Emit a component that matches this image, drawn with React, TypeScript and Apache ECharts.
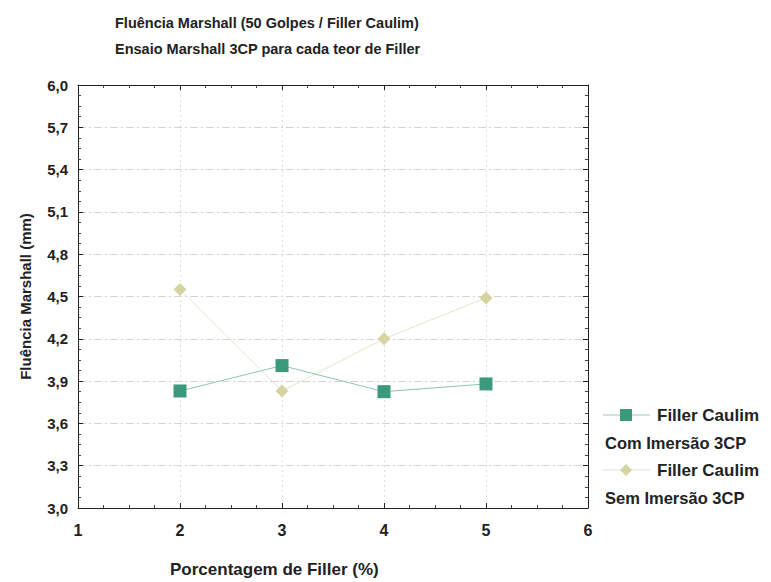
import React, { useEffect, useRef } from "react";
import * as echarts from "echarts";

const xValues = [2, 3, 4, 5];
const comImersao = [3.83, 4.01, 3.825, 3.88];
const semImersao = [4.55, 3.83, 4.2, 4.49];
const titleLine1 = "Fluência Marshall (50 Golpes / Filler Caulim)";
const titleLine2 = "Ensaio Marshall 3CP para cada teor de Filler";
const yName = "Fluência Marshall (mm)";
const xName = "Porcentagem de Filler (%)";
const legendNames = ["Filler Caulim", "Filler Caulim"];
const legendSub = ["Com Imersão 3CP", "Sem Imersão 3CP"];

const FONT = "'Liberation Sans Narrow', 'Liberation Sans', Arial, sans-serif";
const C1 = "#3b9a7c";
const C2 = "#d6d5a2";

export default function App() {
  const ref = useRef<HTMLDivElement>(null);
  useEffect(() => {
    document.body.style.margin = "0";
    const chart = echarts.init(ref.current!, null, { renderer: "svg" });
    const axisBase = {
      axisLine: { show: true, lineStyle: { color: "#222", width: 1 } },
      axisTick: { show: true, inside: true, length: 5, lineStyle: { color: "#222" } },
      minorTick: { show: true, splitNumber: 4, length: 3, lineStyle: { color: "#444" } },
    };
    const tstyle = { fontFamily: FONT, fontSize: 14.5, fontWeight: "bold", color: "#222" };
    chart.setOption({
      animation: false,
      backgroundColor: "#fff",
      textStyle: { fontFamily: FONT },
      title: [
        { text: titleLine1, left: 110, top: 10, textStyle: tstyle },
        { text: titleLine2, left: 110, top: 36, textStyle: tstyle },
        { text: xName, left: 165, top: 556, textStyle: { ...tstyle, fontSize: 17 } },
      ],
      grid: { left: 78, right: 183, top: 85, bottom: 74 },
      xAxis: [
        {
          type: "value", min: 1, max: 6, interval: 1,
          ...axisBase,
          axisLabel: { fontFamily: FONT, fontSize: 16, fontWeight: "bold", color: "#222", margin: 14 },
          splitLine: { show: true, lineStyle: { color: "#dedede", type: [2, 3], width: 1 } },
        },
        {
          type: "value", min: 1, max: 6, interval: 1, position: "top",
          ...axisBase, axisLabel: { show: false }, splitLine: { show: false },
        },
      ],
      yAxis: [
        {
          type: "value", min: 3, max: 6, interval: 0.3,
          ...axisBase,
          name: yName, nameLocation: "middle", nameGap: 45, nameRotate: 90,
          nameTextStyle: { ...tstyle, fontSize: 15 },
          axisLabel: {
            fontFamily: FONT, fontSize: 15, fontWeight: "bold", color: "#222", margin: 10,
            formatter: (v: number) => v.toFixed(1).replace(".", ","),
          },
          splitLine: { show: true, lineStyle: { color: "#d4d4d4", type: [8, 3, 2, 3], width: 1 } },
        },
        {
          type: "value", min: 3, max: 6, interval: 0.3, position: "right",
          ...axisBase, axisLabel: { show: false }, splitLine: { show: false },
        },
      ],
      series: [
        {
          name: legendSub[0], type: "line",
          data: xValues.map((x, i) => [x, comImersao[i]]),
          symbol: "rect", symbolSize: 13,
          itemStyle: { color: C1 }, lineStyle: { color: "#8fc4b2", width: 1 },
          z: 3,
        },
        {
          name: legendSub[1], type: "line",
          data: xValues.map((x, i) => [x, semImersao[i]]),
          symbol: "diamond", symbolSize: 13,
          itemStyle: { color: C2 }, lineStyle: { color: "#e6e5c8", width: 1 },
          z: 2,
        },
      ],
      graphic: [
        { type: "line", shape: { x1: 603, y1: 415, x2: 650, y2: 415 }, style: { stroke: "#9ccab9", lineWidth: 1 } },
        { type: "rect", shape: { x: 620, y: 409, width: 12, height: 12 }, style: { fill: C1 } },
        { type: "text", x: 657, y: 415, style: { text: legendNames[0], font: `bold 17px ${FONT}`, fill: "#222", verticalAlign: "middle" } },
        { type: "text", x: 605, y: 443, style: { text: legendSub[0], font: `bold 16.5px ${FONT}`, fill: "#222", verticalAlign: "middle" } },
        { type: "line", shape: { x1: 603, y1: 470, x2: 650, y2: 470 }, style: { stroke: "#e3e2c6", lineWidth: 1 } },
        { type: "polygon", shape: { points: [[626, 464], [632, 470], [626, 476], [620, 470]] }, style: { fill: C2 } },
        { type: "text", x: 657, y: 470, style: { text: legendNames[1], font: `bold 17px ${FONT}`, fill: "#222", verticalAlign: "middle" } },
        { type: "text", x: 605, y: 498, style: { text: legendSub[1], font: `bold 16.5px ${FONT}`, fill: "#222", verticalAlign: "middle" } },
      ],
    });
    return () => chart.dispose();
  }, []);
  return <div ref={ref} style={{ width: 771, height: 582 }} />;
}
